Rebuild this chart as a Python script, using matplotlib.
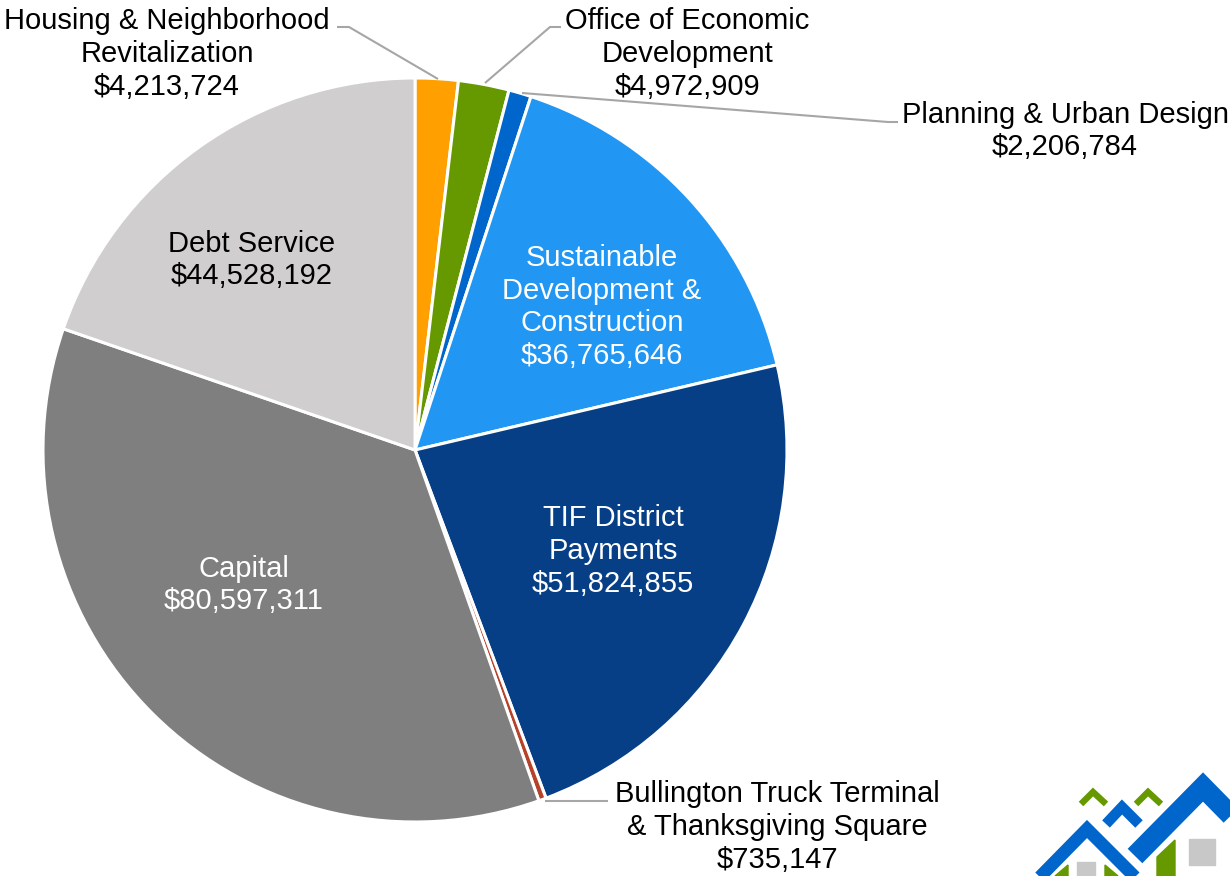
import matplotlib.pyplot as plt

# Budget data
labels = ["Housing & Neighborhood\nRevitalization", "Office of Economic\nDevelopment",
          "Planning & Urban Design", "Sustainable\nDevelopment &\nConstruction",
          "TIF District\nPayments", "Bullington Truck Terminal\n& Thanksgiving Square",
          "Capital", "Debt Service"]
values = [4213724, 4972909, 2206784, 36765646, 51824855, 735147, 80597311, 44528192]
colors = ["#FFA000", "#669900", "#0066CC", "#2196F3", "#073F87", "#B5432B", "#7F7F7F", "#D0CECE"]

W, H = 1230, 876
fig = plt.figure(figsize=(12.3, 8.76), dpi=100)
ax = fig.add_axes([0, 0, 1, 1])

def py(y):
    # pixel row -> data y
    return H - y

cx, cy, r = 415, py(450), 372
ax.pie(values, colors=colors, startangle=90, counterclock=False,
       center=(cx, cy), radius=r,
       wedgeprops=dict(edgecolor="white", linewidth=2.2))
ax.set_xlim(0, W)
ax.set_ylim(0, H)
ax.set_aspect("auto")
ax.axis("off")

plt.rcParams["font.family"] = ["Liberation Sans", "DejaVu Sans"]
fs = 21
ls = 1.21

def money(v):
    return "${:,}".format(v)

# label positions (center x, center y in px), text colour
pos = [(167, 54, "black"), (687, 54, "black"), (1065, 131, "black"),
       (602, 307, "white"), (613, 551, "white"), (777, 827, "black"),
       (244, 585, "white"), (252, 260, "black")]
for lab, v, (x, y, c) in zip(labels, values, pos):
    ax.text(x, py(y), lab + "\n" + money(v), ha="center", va="center",
            fontsize=fs, color=c, linespacing=ls)

# leader lines
lc = "#A6A6A6"
leaders = [[(337, 27), (349, 27), (438, 79)],
           [(561, 27), (550, 27), (485, 83)],
           [(898, 122), (888, 122), (522, 93)],
           [(545, 801), (608, 801)]]
for pts in leaders:
    ax.plot([p[0] for p in pts], [py(p[1]) for p in pts], color=lc, lw=1.5,
            solid_capstyle="butt")

# logo in the corner
blue, green, grey = "#0066CC", "#669900", "#C8C8C8"
def seg(pts, c, w):
    ax.plot([p[0] for p in pts], [py(p[1]) for p in pts], color=c, lw=w,
            solid_joinstyle="miter", solid_capstyle="butt", clip_on=True)

ax.fill([1157, 1175, 1175, 1157], [py(857), py(840), py(876), py(876)], color=green)
ax.fill([1055, 1068, 1068], [py(876), py(865), py(876)], color=green)
ax.fill([1105, 1118, 1105], [py(865), py(876), py(876)], color=green)
ax.fill([1189, 1215, 1215, 1189], [py(839), py(839), py(865), py(865)], color=grey)
ax.fill([1077, 1095, 1095, 1077], [py(862), py(862), py(876), py(876)], color=grey)
seg([(1135, 856), (1203, 787), (1260, 845)], blue, 14.8)
seg([(1030, 887), (1087, 829), (1145, 887)], blue, 9.2)
seg([(1106, 824), (1122, 807), (1139, 824)], blue, 7.6)
seg([(1081, 804), (1093, 792), (1106, 804)], green, 4.6)
seg([(1136, 804), (1148, 792), (1161, 804)], green, 4.6)

fig.savefig("out.png", dpi=100)
